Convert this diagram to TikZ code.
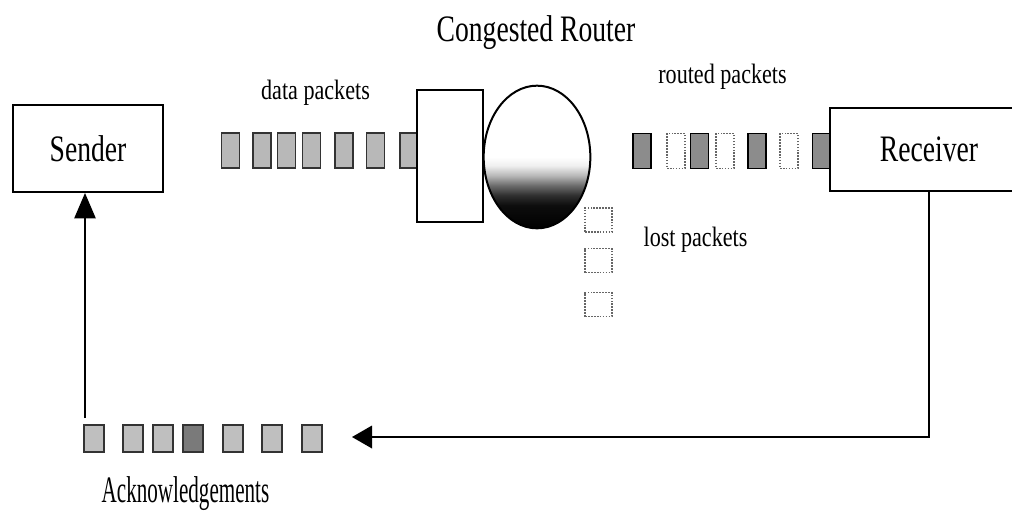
\documentclass[tikz,border=0pt]{standalone}
\usepackage{fontspec}
\setmainfont{Liberation Serif}
\usetikzlibrary{shapes.geometric, arrows.meta}

% router buffer: white on top, darkening to black at the bottom
\pgfdeclareverticalshading{routerfill}{100bp}{%
  color(0bp)=(black); color(25bp)=(black); color(33bp)=(black!95);
  color(36.5bp)=(black!82); color(40bp)=(black!58); color(43.5bp)=(black!28);
  color(47bp)=(black!6); color(50bp)=(white); color(100bp)=(white)}

% narrow the serif letters horizontally
\newcommand\cond[2]{\scalebox{#1}[1]{#2}}

\tikzset{
  box/.style={draw, line width=1.5pt, fill=white, inner sep=0pt},
  pkt/.style={draw=black!80, line width=1.2pt, fill=black!28,
              minimum width=13.5pt, minimum height=26pt, inner sep=0pt},
  rpkt/.style={pkt, fill=black!45, draw=black},
  gone/.style={pkt, draw=black!60, fill=white, densely dotted, line width=1.2pt},
  lostpkt/.style={gone, minimum width=20pt, minimum height=18pt},
  ackpkt/.style={pkt, fill=black!25, minimum width=15pt, minimum height=20pt},
  bigtxt/.style={font=\fontsize{28}{30}\selectfont},
  smalltxt/.style={font=\fontsize{21}{24}\selectfont, anchor=base},
  flowh/.style={line width=1pt, -{Triangle[length=15pt, width=17pt]}},
  flowv/.style={line width=1pt, -{Triangle[length=19pt, width=16pt]}}
}

\begin{document}
\begin{tikzpicture}[x=0.75pt, y=-0.75pt]
\useasboundingbox (0,0) rectangle (1012,511);

% data packets queued in front of the router
\foreach \n/\x in {1/230.5, 2/262, 3/286.5, 4/311.5, 5/344, 6/375.5, 7/409}
  \node[pkt] (d\n) at (\x,150.5) {};

% packets leaving the router, some of them missing
\node[rpkt] (r1) at (642,151) {};
\node[gone] (r2) at (676,151) {};
\node[rpkt] (r3) at (699.5,151) {};
\node[gone] (r4) at (725,151) {};
\node[rpkt] (r5) at (757,151) {};
\node[gone] (r6) at (789,151) {};
\node[rpkt] (r7) at (821.5,151) {};

% dropped packets
\node[lostpkt] (l1) at (598.5,220) {};
\node[lostpkt] (l2) at (598.5,260.5) {};
\node[lostpkt] (l3) at (598.5,304.5) {};

% acknowledgement stream
\foreach \n/\x in {1/94, 2/133, 3/163, 5/233, 6/272, 7/312}
  \node[ackpkt] (a\n) at (\x,438.5) {};
\node[ackpkt, fill=black!52] (a4) at (193,438.5) {};

% end systems and router
\node[box, minimum width=112.5pt, minimum height=65.25pt, bigtxt] (snd) at (88,148.5) {\cond{0.74}{Sender}};
\node[box, minimum width=148.5pt, minimum height=62.25pt, bigtxt] (rcv) at (929,149.5) {\cond{0.74}{Receiver}};
\node[box, minimum width=49.5pt, minimum height=99pt] (rq) at (450,156) {};
\node[ellipse, draw, line width=1.5pt, minimum width=80pt, minimum height=107pt,
      inner sep=0pt, shade, shading=routerfill] (rtr) at (537,157) {};

% labels
\node[bigtxt, anchor=base] (tcong) at (536,41) {\cond{0.74}{Congested Router}};
\node[smalltxt] (tdata) at (315.5,99) {\cond{0.79}{data packets}};
\node[smalltxt] (trout) at (722.5,83) {\cond{0.79}{routed packets}};
\node[smalltxt] (tlost) at (695.5,246) {\cond{0.79}{lost packets}};
\node[font=\fontsize{28}{30}\selectfont, anchor=base] (tack) at (185.5,502) {\cond{0.565}{Acknowledgements}};

% feedback path
\coordinate (ackend) at (352,437);
\coordinate (ackup) at (85,418);
\draw[flowh] (rcv.south) |- (ackend);
\draw[flowv] (ackup) -- (ackup |- snd.south);
\end{tikzpicture}
\end{document}
